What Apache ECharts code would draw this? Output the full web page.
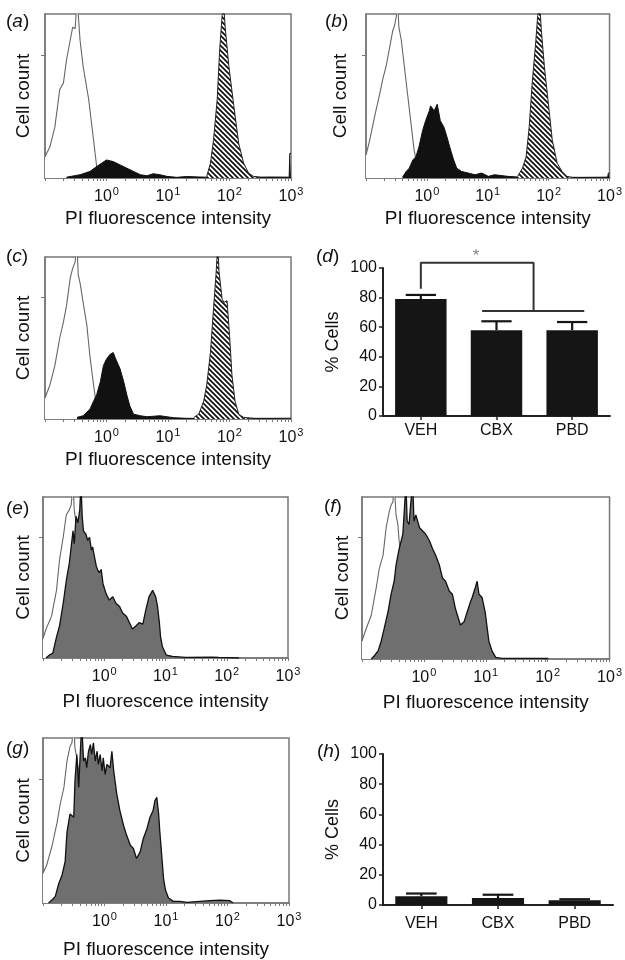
<!DOCTYPE html>
<html>
<head>
<meta charset="utf-8">
<script src="https://cdn.jsdelivr.net/npm/echarts@6/dist/echarts.min.js"></script>
<style>html,body{margin:0;padding:0;background:#fff;}#c{width:625px;height:960px;}</style>
</head>
<body>
<div id="c"></div>
<script>
// ---------- DATA (x = log10 of PI fluorescence intensity, y = relative cell count, 100 = frame top) ----------
const aOpen = [[-1,13],[-0.92,19],[-0.84,31],[-0.76,54],[-0.70,58],[-0.65,72],[-0.59,84],[-0.55,92],[-0.51,91],[-0.48,108],[-0.46,100],[-0.43,84],[-0.38,68],[-0.29,48],[-0.21,23],[-0.16,7],[-0.10,0]];
const aBlack = [[-0.65,0.5],[-0.43,2],[-0.27,4],[-0.16,7],[-0.08,9],[0,11],[0.11,10],[0.22,8],[0.33,6],[0.44,4],[0.55,2],[0.66,1.4],[0.76,2.6],[0.87,2],[0.98,1],[1.14,0.4],[1.3,0.9],[1.52,0.6],[1.63,0.5],[2.4,0.5],[2.7,0.6],[2.97,0.5],[2.98,15],[3,15]];
const aHatch = [[1.63,1],[1.69,9],[1.74,23],[1.80,48],[1.84,78],[1.88,99],[1.90,108],[1.93,92],[1.99,68],[2.07,44],[2.15,21],[2.23,9],[2.31,3],[2.39,1],[2.50,0.4]];

const bOpen = [[-1,14],[-0.94,23],[-0.85,39],[-0.77,52],[-0.72,61],[-0.67,68],[-0.61,80],[-0.56,90],[-0.53,93],[-0.50,99],[-0.48,108],[-0.46,92],[-0.42,84],[-0.37,68],[-0.32,52],[-0.26,33],[-0.21,17],[-0.15,6],[-0.10,0.6]];
const bBlack = [[-0.40,0.5],[-0.34,4],[-0.29,6],[-0.23,11],[-0.18,13],[-0.13,19],[-0.07,29],[-0.02,35],[0.04,41],[0.06,44],[0.12,41],[0.17,45],[0.22,35],[0.28,31],[0.33,25],[0.39,17],[0.44,11],[0.49,6],[0.57,4],[0.68,3],[0.79,2],[0.90,3],[1.01,1],[1.11,2],[1.33,1],[1.54,0.5],[2.5,0.4],[2.97,0.5],[2.98,3],[3,3]];
const bHatch = [[1.49,1],[1.57,6],[1.63,13],[1.68,31],[1.73,58],[1.79,84],[1.82,99],[1.85,108],[1.88,90],[1.93,68],[1.99,47],[2.06,23],[2.14,9],[2.22,4],[2.30,1],[2.41,0.2]];

const cOpen = [[-1,13],[-0.92,21],[-0.84,33],[-0.76,50],[-0.70,60],[-0.65,70],[-0.59,87],[-0.55,93],[-0.51,97],[-0.48,108],[-0.46,89],[-0.43,84],[-0.38,72],[-0.32,58],[-0.27,39],[-0.21,21],[-0.16,7],[-0.10,0.4]];
const cBlack = [[-0.48,1],[-0.38,2],[-0.27,6],[-0.21,11],[-0.16,15],[-0.10,23],[-0.05,33],[0,37],[0.06,40],[0.11,41],[0.14,38],[0.17,39],[0.22,31],[0.28,23],[0.33,15],[0.38,8],[0.44,3],[0.55,2],[0.66,1.4],[0.87,2],[1.09,0.8],[1.31,0.4],[2.6,0.4],[3,0.5]];
const cHatch = [[1.42,1],[1.50,3],[1.58,11],[1.63,21],[1.69,41],[1.74,68],[1.78,89],[1.81,108],[1.83,91],[1.88,74],[1.91,72],[1.96,73],[2.00,52],[2.04,27],[2.09,11],[2.15,3],[2.23,1],[2.39,0.4]];

const eOpen = [[-1,12],[-0.95,18],[-0.86,26],[-0.78,42],[-0.73,61],[-0.67,75],[-0.62,89],[-0.57,92],[-0.54,95],[-0.51,108],[-0.49,92],[-0.46,84],[-0.43,69],[-0.40,51],[-0.38,32],[-0.35,18],[-0.32,7],[-0.30,1]];
const eGray = [[-0.95,0],[-0.89,2],[-0.84,3],[-0.78,13],[-0.73,20],[-0.67,34],[-0.62,48],[-0.57,59],[-0.54,69],[-0.51,79],[-0.49,71],[-0.46,88],[-0.43,84],[-0.40,92],[-0.38,108],[-0.36,88],[-0.34,79],[-0.30,77],[-0.27,73],[-0.24,75],[-0.21,67],[-0.19,69],[-0.16,63],[-0.13,57],[-0.11,55],[-0.08,53],[-0.05,55],[-0.02,46],[0.03,40],[0.08,36],[0.14,38],[0.19,34],[0.25,32],[0.30,28],[0.36,26],[0.41,22],[0.46,18],[0.52,20],[0.57,22],[0.63,21],[0.68,30],[0.73,38],[0.79,42],[0.84,38],[0.87,32],[0.90,22],[0.92,13],[0.95,7],[1.01,2],[1.06,1.4],[1.11,1],[1.33,0.4],[1.76,0.6],[1.87,0.4],[2.20,0]];

const fOpen = [[-1,11],[-0.93,19],[-0.85,27],[-0.77,44],[-0.72,56],[-0.66,64],[-0.61,81],[-0.56,91],[-0.53,95],[-0.50,97],[-0.48,108],[-0.45,89],[-0.42,83],[-0.40,73],[-0.37,64],[-0.34,44],[-0.29,23],[-0.24,9],[-0.18,1]];
const fGray = [[-0.85,0],[-0.80,2],[-0.74,5],[-0.69,11],[-0.64,19],[-0.58,29],[-0.53,40],[-0.48,48],[-0.45,58],[-0.40,68],[-0.34,77],[-0.29,108],[-0.27,85],[-0.24,83],[-0.21,97],[-0.18,108],[-0.16,85],[-0.13,89],[-0.07,81],[-0.02,79],[0.03,77],[0.09,73],[0.14,68],[0.19,64],[0.25,58],[0.30,50],[0.35,48],[0.41,42],[0.46,40],[0.51,31],[0.59,21],[0.65,23],[0.70,29],[0.75,35],[0.78,38],[0.83,44],[0.86,48],[0.89,40],[0.94,38],[0.99,29],[1.05,11],[1.10,5],[1.16,1],[1.26,0.4],[1.80,0.4],[1.82,1.5],[1.84,0.4],[2.01,0.3]];

const gOpen = [[-1,18],[-0.94,23],[-0.85,35],[-0.77,49],[-0.72,60],[-0.66,70],[-0.61,86],[-0.56,95],[-0.53,97],[-0.50,108],[-0.48,94],[-0.45,88],[-0.42,80],[-0.39,68],[-0.37,54],[-0.34,39],[-0.29,23],[-0.23,9],[-0.18,1]];
const gGray = [[-0.91,0],[-0.85,2],[-0.80,4],[-0.75,11],[-0.69,17],[-0.64,25],[-0.61,43],[-0.56,54],[-0.50,52],[-0.48,74],[-0.45,90],[-0.42,70],[-0.39,94],[-0.37,108],[-0.34,86],[-0.31,88],[-0.29,82],[-0.26,92],[-0.23,96],[-0.21,90],[-0.18,97],[-0.15,86],[-0.12,92],[-0.10,84],[-0.07,90],[-0.04,80],[-0.02,88],[0.01,78],[0.04,84],[0.09,82],[0.12,92],[0.15,80],[0.20,66],[0.25,56],[0.31,47],[0.36,41],[0.42,35],[0.47,33],[0.52,27],[0.55,26],[0.58,31],[0.63,39],[0.69,45],[0.74,52],[0.79,56],[0.82,62],[0.85,64],[0.88,54],[0.90,43],[0.93,29],[0.96,15],[0.99,8],[1.04,3],[1.12,1],[1.23,1],[1.34,0.4],[1.71,1.4],[1.88,1.8],[2.04,1.4],[2.09,0]];

const categories = ['VEH', 'CBX', 'PBD'];
const dMean = [79, 58, 58];
const dSem = [2.8, 6, 5.5];
const hMean = [5.8, 4.6, 3.2];
const hSem = [1.8, 2.2, 0.6];
const dBracketUpper = [[0,86],[0,103.6],[1.49,103.6],[1.49,71]];
const dBracketLower = [[0.81,71],[2.16,71]];
const dStar = [[0.73,103.6]];

const decadeLabels = [0, 1, 2, 3];          // 10^0 ... 10^3
const decadeStarts = [-1, 0, 1, 2];
const minorMultipliers = [1, 2, 3, 4, 5, 6, 7, 8, 9];
const countTicks = [75];
const panelLetters = ['a','b','c','d','e','f','g','h'];

// ---------- helpers ----------
const FONT = '"Liberation Sans", Arial, Helvetica, sans-serif';
const minorTicks = [];
decadeStarts.forEach(d => minorMultipliers.forEach(m => minorTicks.push(d + Math.log10(m))));
minorTicks.push(3);

const hatch = document.createElement('canvas');
hatch.width = 5; hatch.height = 5;
(function () {
  const g = hatch.getContext('2d');
  g.fillStyle = '#fff'; g.fillRect(0, 0, 5, 5);
  g.strokeStyle = '#111'; g.lineWidth = 1.7;
  [[-5, -5, 10, 10], [-5, 0, 5, 10], [0, -5, 10, 5]].forEach(l => {
    g.beginPath(); g.moveTo(l[0], l[1]); g.lineTo(l[2], l[3]); g.stroke();
  });
})();

const grids = [
  {left: 45, top: 14, width: 246, height: 164},
  {left: 366, top: 14, width: 247, height: 164},
  {left: 45, top: 257, width: 246, height: 162},
  {left: 383, top: 268, width: 227, height: 148},
  {left: 43, top: 497, width: 245, height: 161},
  {left: 362, top: 497, width: 250, height: 162},
  {left: 43, top: 738, width: 246, height: 165},
  {left: 383, top: 754, width: 230, height: 151}
];
const histPanels = [0, 1, 2, 4, 5, 6];
const nameGaps = {0: 31, 1: 31, 2: 31, 4: 34, 5: 34, 6: 37};
const cellGaps = {0: 12, 1: 16, 2: 12, 4: 10, 5: 10, 6: 10};

const xAxes = [], yAxes = [];
grids.forEach((g, i) => {
  if (histPanels.includes(i)) {
    xAxes.push({
      gridIndex: i, type: 'value', min: -1, max: 3, interval: 1,
      name: 'PI fluorescence intensity', nameLocation: 'middle', nameGap: nameGaps[i],
      nameTextStyle: {fontFamily: FONT, fontSize: 19, color: '#111'},
      axisLine: {show: true, onZero: false, lineStyle: {color: '#777', width: 1.5}},
      axisTick: {show: true, customValues: minorTicks, length: 3, lineStyle: {color: '#777', width: 1}},
      axisLabel: {
        show: true, customValues: decadeLabels, margin: 8,
        formatter: v => '{b|10}{s|' + v + '}',
        rich: {
          b: {fontFamily: FONT, fontSize: 16, color: '#111', verticalAlign: 'bottom'},
          s: {fontFamily: FONT, fontSize: 11, color: '#111', verticalAlign: 'bottom', padding: [0, 0, 8, 1]}
        }
      },
      splitLine: {show: false}
    });
    yAxes.push({
      gridIndex: i, type: 'value', min: 0, max: 100,
      name: 'Cell count', nameLocation: 'middle', nameGap: cellGaps[i], nameRotate: 90,
      nameTextStyle: {fontFamily: FONT, fontSize: 19, color: '#111'},
      axisLine: {show: true, onZero: false, lineStyle: {color: '#777', width: 1.5}},
      axisTick: {show: true, customValues: countTicks, length: 4, lineStyle: {color: '#777'}},
      axisLabel: {show: false},
      splitLine: {show: false}
    });
  } else {
    xAxes.push({
      gridIndex: i, type: 'category', data: categories,
      axisLine: {show: true, onZero: false, lineStyle: {color: '#222', width: 2}},
      axisTick: {show: true, alignWithLabel: true, length: 4, lineStyle: {color: '#222', width: 1.5}},
      axisLabel: {fontFamily: FONT, fontSize: 16, color: '#111', margin: i === 3 ? 7 : 11},
      splitLine: {show: false}
    });
    yAxes.push({
      gridIndex: i, type: 'value', min: 0, max: 100, interval: 20,
      name: '% Cells', nameLocation: 'middle', nameGap: 41, nameRotate: 90,
      nameTextStyle: {fontFamily: FONT, fontSize: 18, color: '#111'},
      axisLine: {show: true, onZero: false, lineStyle: {color: '#222', width: 2}},
      axisTick: {show: true, length: 4, lineStyle: {color: '#222', width: 1.5}},
      axisLabel: {fontFamily: FONT, fontSize: 16, color: '#111', margin: 6},
      splitLine: {show: false}
    });
  }
});
// hidden value axis over panel (d) for the significance bracket
xAxes.push({gridIndex: 3, type: 'value', min: -0.5, max: 2.5, show: false});

function openSeries(i, data) {
  return {type: 'line', xAxisIndex: i, yAxisIndex: i, data: data, showSymbol: false, symbol: 'none',
    lineStyle: {color: '#666', width: 1.1}, areaStyle: {color: '#fff', opacity: 1}, z: 2};
}
function blackSeries(i, data) {
  return {type: 'line', xAxisIndex: i, yAxisIndex: i, data: data, showSymbol: false, symbol: 'none',
    lineStyle: {color: '#111', width: 1}, areaStyle: {color: '#111', opacity: 1}, z: 3};
}
function hatchSeries(i, data) {
  return {type: 'line', xAxisIndex: i, yAxisIndex: i, data: data, showSymbol: false, symbol: 'none',
    lineStyle: {color: '#222', width: 1}, areaStyle: {color: {image: hatch, repeat: 'repeat'}, opacity: 1}, z: 4};
}
function graySeries(i, data) {
  return {type: 'line', xAxisIndex: i, yAxisIndex: i, data: data, showSymbol: false, symbol: 'none',
    lineStyle: {color: '#111', width: 1.3}, areaStyle: {color: '#6f6f6f', opacity: 1}, z: 3};
}
function barSeries(i, mean) {
  return {type: 'bar', xAxisIndex: i, yAxisIndex: i, data: mean, barWidth: '68%',
    itemStyle: {color: '#151515'}, z: 2};
}
function errSeries(i, mean, sem) {
  return {
    type: 'custom', xAxisIndex: i, yAxisIndex: i, z: 3,
    data: mean.map((m, k) => [k, m, sem[k]]),
    renderItem: function (params, api) {
      const k = api.value(0), m = api.value(1), s = api.value(2);
      const p0 = api.coord([k, m]), p1 = api.coord([k, m + s]);
      const hw = api.size([1, 0])[0] * 0.2;
      return {type: 'group', children: [
        {type: 'line', shape: {x1: p0[0], y1: p0[1], x2: p1[0], y2: p1[1]}, style: {stroke: '#151515', lineWidth: 2.2}},
        {type: 'line', shape: {x1: p1[0] - hw, y1: p1[1], x2: p1[0] + hw, y2: p1[1]}, style: {stroke: '#151515', lineWidth: 2.2}}
      ]};
    }
  };
}

const series = [
  openSeries(0, aOpen), blackSeries(0, aBlack), hatchSeries(0, aHatch),
  openSeries(1, bOpen), blackSeries(1, bBlack), hatchSeries(1, bHatch),
  openSeries(2, cOpen), blackSeries(2, cBlack), hatchSeries(2, cHatch),
  barSeries(3, dMean), errSeries(3, dMean, dSem),
  openSeries(4, eOpen), graySeries(4, eGray),
  openSeries(5, fOpen), graySeries(5, fGray),
  openSeries(6, gOpen), graySeries(6, gGray),
  barSeries(7, hMean), errSeries(7, hMean, hSem),
  {type: 'line', xAxisIndex: 8, yAxisIndex: 3, data: dBracketUpper, clip: false, showSymbol: false, symbol: 'none',
    lineStyle: {color: '#333', width: 2}, z: 5},
  {type: 'line', xAxisIndex: 8, yAxisIndex: 3, data: dBracketLower, clip: false, showSymbol: false, symbol: 'none',
    lineStyle: {color: '#333', width: 2}, z: 5},
  {type: 'scatter', xAxisIndex: 8, yAxisIndex: 3, data: dStar, clip: false, symbolSize: 1,
    itemStyle: {color: 'rgba(0,0,0,0)'},
    label: {show: true, position: 'top', distance: -3, formatter: '*', fontFamily: FONT, fontSize: 17, color: '#666'}, z: 5}
];

const titlePos = [[6, 12], [325, 12], [6, 247], [316, 247], [6, 499], [324, 497], [6, 739], [317, 742]];
const titles = panelLetters.map((l, i) => ({
  text: '{p|(}{i|' + l + '}{p|)}', left: titlePos[i][0], top: titlePos[i][1], padding: 0,
  textStyle: {fontWeight: 'normal', rich: {
    p: {fontFamily: FONT, fontSize: 19, color: '#111', fontWeight: 'normal'},
    i: {fontFamily: FONT, fontSize: 19, color: '#111', fontStyle: 'italic', fontWeight: 'normal'}
  }}
}));

const chart = echarts.init(document.getElementById('c'), null, {renderer: 'canvas'});
chart.setOption({
  animation: false,
  backgroundColor: '#fff',
  title: titles,
  grid: grids.map((g, i) => Object.assign({
    show: histPanels.includes(i), borderColor: '#777', borderWidth: 1.5, backgroundColor: 'transparent'
  }, g)),
  xAxis: xAxes,
  yAxis: yAxes,
  series: series
});
</script>
</body>
</html>
